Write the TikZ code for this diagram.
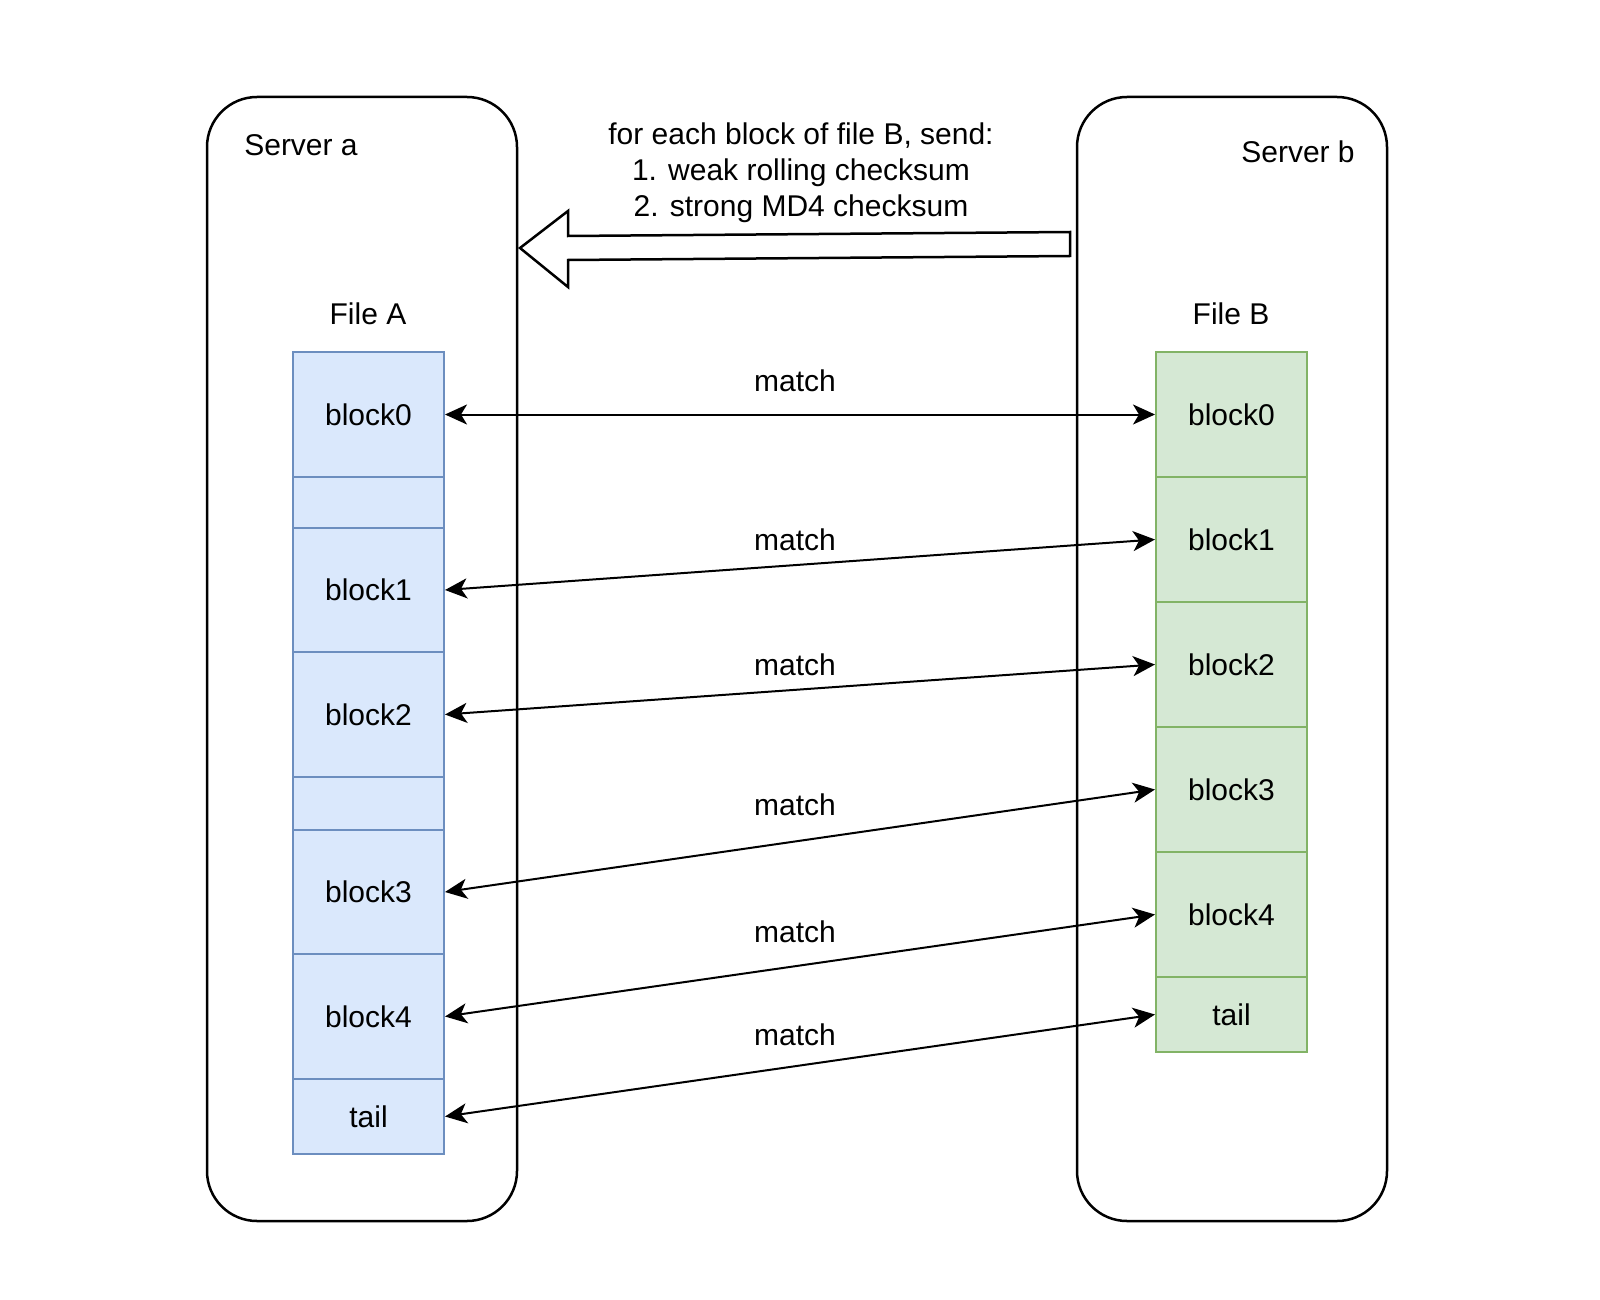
\documentclass[tikz,border=0pt]{standalone}
\usepackage{fontspec}
\setmainfont{Liberation Sans}
\usetikzlibrary{arrows.meta}
\definecolor{blueFill}{HTML}{DAE8FC}
\definecolor{blueLine}{HTML}{6C8EBF}
\definecolor{greenFill}{HTML}{D5E8D4}
\definecolor{greenLine}{HTML}{82B366}

\begin{document}
\begin{tikzpicture}
[x=0.5pt,y=-0.5pt,
  every node/.style={font=\fontsize{15}{18}\selectfont,align=center},
  serverDecorate/.style={draw,line width=1.25pt,rounded corners=25pt,minimum width=155pt,minimum height=562pt},
  blockADecorate/.style={draw=blueLine,fill=blueFill,line width=1pt,minimum width=75.5pt,inner sep=0pt},
  blockBDecorate/.style={draw=greenLine,fill=greenFill,line width=1pt,minimum width=75.5pt,inner sep=0pt},
  matchDecorate/.style={{Stealth[length=11pt,width=10pt,inset=3pt]}-{Stealth[length=11pt,width=10pt,inset=3pt]},line width=1pt}]
\useasboundingbox (0,0) rectangle (1600,1300);
%% servers
\node (serverA) at (362,659) [serverDecorate] {};
\node (serverB) at (1232,659) [serverDecorate] {};
\node (serverAText) at (301,145) {Server a};
\node (serverBText) at (1298,152) {Server b};
\node (fileAText) at (368,314) {File A};
\node (fileBText) at (1231,314) {File B};
%% checksums sent from b to a
\node (sendText) at (801,173) {for each block of file B, send:\\1. weak rolling checksum\\2. strong MD4 checksum};
\draw[line width=1.25pt] (1070,232) -- (568,236) -- (568,211) -- (520,248)
  -- (568,287) -- (568,260) -- (1070,256) -- cycle;
%% blocks of file A
\foreach \nodename/\txt/\ya/\yb in {
  a0/block0/352/477, ag1//477/528, a1/block1/528/652, a2/block2/652/777,
  ag2//777/830, a3/block3/830/954, a4/block4/954/1079, at/tail/1079/1154}
{
  \node (\nodename) at (368.5,{(\ya+\yb)/2}) [blockADecorate,minimum height={(\yb-\ya)*0.5pt}] {\txt};
}
%% blocks of file B
\foreach \nodename/\txt/\ya/\yb in {
  b0/block0/352/477, b1/block1/477/602, b2/block2/602/727,
  b3/block3/727/852, b4/block4/852/977, bt/tail/977/1052}
{
  \node (\nodename) at (1231.5,{(\ya+\yb)/2}) [blockBDecorate,minimum height={(\yb-\ya)*0.5pt}] {\txt};
}
%% matches
\path
\foreach \startnode/\endnode/\lift in {a0/b0/34, a1/b1/25, a2/b2/24.5, a3/b3/35.5, a4/b4/33.5, at/bt/30.5}
{
  (\startnode.east) edge[matchDecorate] node[xshift=-2.5pt,yshift=\lift*0.5pt] {match} (\endnode.west)
};
\end{tikzpicture}
\end{document}
